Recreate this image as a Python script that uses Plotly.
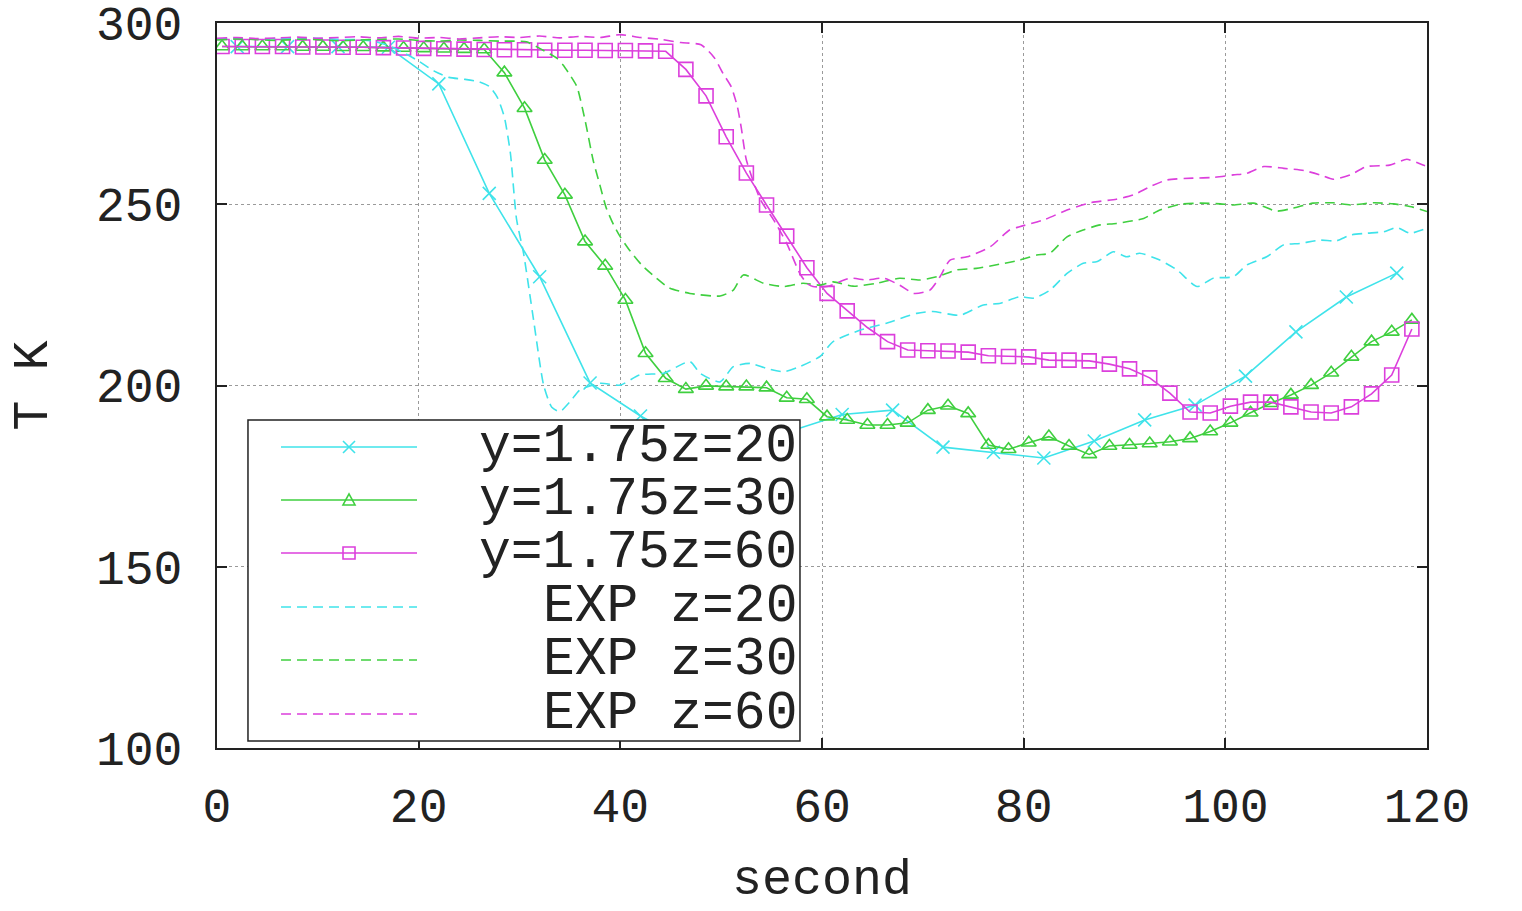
import plotly.graph_objects as go

# ---------------- data ----------------
sim_t_dense = [0.5, 2.5, 4.5, 6.5, 8.5, 10.5, 12.5, 14.5, 16.5, 18.5, 20.5, 22.5, 24.5, 26.5, 28.5,
               30.5, 32.5, 34.5, 36.5, 38.5, 40.5, 42.5, 44.5, 46.5, 48.5, 50.5, 52.5, 54.5, 56.5, 58.5,
               60.5, 62.5, 64.5, 66.5, 68.5, 70.5, 72.5, 74.5, 76.5, 78.5, 80.5, 82.5, 84.5, 86.5, 88.5,
               90.5, 92.5, 94.5, 96.5, 98.5, 100.5, 102.5, 104.5, 106.5, 108.5, 110.5, 112.5, 114.5, 116.5, 118.5]

sim_z30 = [293.5, 293.5, 293.5, 293.5, 293.4, 293.4, 293.3, 293.3, 293.2, 293.1, 293.0, 292.9, 292.8, 292.7, 286.3,
           276.5, 262.2, 252.6, 239.7, 233.0, 223.6, 208.9, 202.0, 199.0, 199.9, 199.7, 199.7, 199.4, 196.6, 196.2,
           191.4, 190.5, 189.1, 189.1, 189.7, 193.2, 194.4, 192.3, 183.6, 182.4, 184.2, 185.9, 183.3, 181.0, 183.3,
           183.6, 184.0, 184.5, 185.4, 187.3, 189.7, 192.5, 195.1, 197.4, 200.1, 203.5, 207.9, 212.1, 214.8, 218.1]

sim_z60 = [293.5, 293.5, 293.5, 293.5, 293.4, 293.4, 293.3, 293.3, 293.2, 293.1, 293.0, 292.9, 292.8, 292.7, 292.6,
           292.6, 292.5, 292.5, 292.5, 292.4, 292.4, 292.3, 292.2, 287.2, 279.9, 268.6, 258.6, 249.8, 241.2, 232.5,
           225.4, 220.6, 216.0, 212.1, 209.8, 209.6, 209.5, 209.2, 208.2, 208.0, 207.9, 207.0, 207.0, 206.8, 205.9,
           204.6, 202.1, 197.9, 192.7, 192.4, 194.3, 195.4, 195.4, 194.1, 192.7, 192.4, 194.1, 197.7, 202.9, 215.6]

sim_t_z20 = [2, 7, 12, 17, 22, 27, 32, 37, 42, 47, 52, 57, 62, 67, 72, 77, 82, 87, 92, 97, 102, 107, 112, 117]
sim_z20 = [293.5, 293.5, 293.5, 293.3, 283.2, 253.0, 230.0, 200.7, 191.6, 184.0, 187.5, 187.5, 192.0, 193.2,
           183.0, 181.6, 180.0, 184.7, 190.5, 194.6, 202.6, 214.8, 224.4, 231.0]

exp_t_z20 = [0, 2, 4, 6, 8, 10, 12, 14, 15.5, 17, 18.5, 20, 21.5, 23, 24.5, 26, 27, 27.8, 28.5, 29.1, 29.7,
             30.4, 31.4, 32.4, 33.2, 34.0, 35.0, 36.0, 38.0, 40.0, 41.9, 44.3, 46.9, 47.9, 49.9, 51.2, 52.9,
             54.5, 56.2, 57.8, 59.8, 61.1, 63.8, 66.4, 69.4, 71.0, 73.7, 76.0, 77.7, 79.6, 81.0, 82.6, 84.3,
             85.9, 87.3, 88.9, 90.2, 91.5, 93.5, 95.2, 97.2, 98.8, 100.8, 102.1, 104.1, 105.8, 107.4, 109.4,
             111.0, 112.4, 114.0, 115.7, 117.0, 118.3, 120.0]
exp_z20 = [295.6, 295.8, 295.5, 295.7, 295.6, 295.8, 295.5, 295.4, 295.0, 293.8, 291.8, 289.5, 286.8, 285.0,
           284.5, 283.8, 282.5, 279.5, 274.0, 264.0, 246.0, 236.5, 218.0, 200.0, 194.0, 192.8, 195.5, 198.8,
           200.6, 200.1, 202.9, 203.4, 206.6, 203.4, 201.0, 205.2, 206.1, 204.7, 203.8, 205.2, 208.0, 212.1,
           215.3, 217.2, 219.9, 220.4, 219.4, 222.2, 222.7, 224.5, 224.1, 226.3, 230.9, 233.7, 234.2, 236.9,
           235.5, 236.5, 234.6, 231.9, 227.3, 229.6, 230.0, 233.2, 235.5, 238.8, 239.2, 240.1, 239.9, 241.5,
           242.0, 242.4, 243.6, 242.0, 243.4]

exp_t_z30 = [0, 2, 4, 6, 8, 10, 12, 14, 16, 18, 20, 22, 24, 26, 28, 29.5, 30.7, 32.0, 33.0, 33.7, 34.3, 35.0,
             35.7, 36.5, 37.3, 38.0, 38.6, 39.3, 40.0, 41.0, 42.2, 43.5, 44.8, 46.9, 49.9, 51.2, 52.2, 54.2,
             56.2, 58.1, 59.8, 61.1, 63.1, 65.4, 67.7, 69.7, 71.4, 73.4, 75.3, 77.7, 79.6, 81.3, 82.6, 84.3,
             85.9, 87.6, 89.2, 91.9, 93.5, 95.5, 97.5, 99.5, 100.8, 102.8, 105.1, 106.7, 108.7, 110.7, 112.4,
             114.7, 116.7, 118.6, 120.0]
exp_z30 = [295.3, 295.6, 295.4, 295.2, 295.5, 295.4, 295.1, 295.3, 295.5, 295.6, 295.2, 295.0, 295.3, 295.2,
           295.0, 295.0, 294.8, 293.0, 291.5, 290.3, 288.5, 285.7, 282.4, 273.2, 262.2, 255.0, 249.0, 244.5,
           241.0, 237.0, 233.0, 229.8, 227.0, 225.4, 224.7, 226.3, 230.5, 228.2, 227.3, 228.2, 227.7, 228.6,
           227.4, 228.2, 229.6, 229.1, 230.0, 231.9, 232.3, 233.5, 234.6, 236.0, 236.5, 241.0, 242.9, 244.3,
           244.7, 246.1, 248.4, 250.0, 250.3, 250.1, 249.8, 250.3, 248.1, 248.9, 250.3, 250.4, 249.8, 250.4,
           250.1, 249.2, 248.0]

exp_t_z60 = [0, 2, 4, 6, 8, 10, 12, 14, 16, 18, 20, 22, 24, 26, 28, 30, 32, 34, 36, 38, 40, 42, 44, 46, 48,
             49.3, 50.2, 51.0, 51.6, 52.0, 52.5, 53.9, 55.2, 56.5, 57.8, 58.5, 59.1, 60.5, 62.8, 64.4, 66.1,
             67.7, 69.1, 70.7, 71.7, 72.7, 74.4, 76.7, 78.6, 79.6, 82.0, 84.3, 86.6, 89.2, 90.9, 92.5, 94.2,
             96.8, 98.8, 100.8, 102.1, 103.8, 105.8, 107.8, 109.4, 110.7, 112.4, 114.0, 116.3, 118.0, 119.6, 120.0]
exp_z60 = [295.8, 296.0, 295.7, 295.9, 296.1, 295.8, 296.0, 296.2, 295.9, 296.3, 295.8, 296.0, 295.6, 295.9,
           296.2, 296.0, 296.4, 295.9, 296.3, 296.0, 296.8, 296.0, 295.5, 294.6, 294.0, 290.5, 286.0, 282.4,
           277.0, 271.0, 262.2, 251.2, 245.7, 239.2, 230.9, 228.2, 227.3, 227.3, 229.6, 229.1, 229.6, 227.7,
           225.4, 226.3, 230.0, 234.6, 235.5, 238.3, 242.9, 243.8, 245.7, 248.4, 250.4, 251.4, 252.6, 254.8,
           256.7, 257.2, 257.4, 258.1, 258.5, 260.4, 259.9, 259.3, 258.1, 256.9, 258.1, 260.4, 260.8, 262.4,
           260.8, 260.5]

series_names = ["y=1.75z=20", "y=1.75z=30", "y=1.75z=60", "EXP z=20", "EXP z=30", "EXP z=60"]

x_ticks = [0, 20, 40, 60, 80, 100, 120]
y_ticks = [100, 150, 200, 250, 300]
x_title = "second"
y_title = "T K"

# ---------------- style ----------------
CYAN = "#3fe3ea"
GREEN = "#3fcf3f"
MAGENTA = "#dc3fdc"
INK = "#222222"
FONT = "Liberation Mono"
DASH = "10px,6px"
colors = [CYAN, GREEN, MAGENTA, CYAN, GREEN, MAGENTA]

fig = go.Figure()

fig.add_trace(go.Scatter(x=sim_t_z20, y=sim_z20, mode="lines+markers", name=series_names[0],
                         line=dict(color=CYAN, width=1.6),
                         marker=dict(symbol="x-thin-open", size=13, line=dict(color=CYAN, width=1.6))))
fig.add_trace(go.Scatter(x=sim_t_dense, y=sim_z30, mode="lines+markers", name=series_names[1],
                         line=dict(color=GREEN, width=1.6),
                         marker=dict(symbol="triangle-up-open", size=13, color=GREEN, line=dict(color=GREEN, width=1.6))))
fig.add_trace(go.Scatter(x=sim_t_dense, y=sim_z60, mode="lines+markers", name=series_names[2],
                         line=dict(color=MAGENTA, width=1.6),
                         marker=dict(symbol="square-open", size=14, color=MAGENTA, line=dict(color=MAGENTA, width=1.6))))
fig.add_trace(go.Scatter(x=exp_t_z20, y=exp_z20, mode="lines", name=series_names[3],
                         line=dict(color=CYAN, width=1.6, dash=DASH, shape="spline", smoothing=0.6)))
fig.add_trace(go.Scatter(x=exp_t_z30, y=exp_z30, mode="lines", name=series_names[4],
                         line=dict(color=GREEN, width=1.6, dash=DASH, shape="spline", smoothing=0.6)))
fig.add_trace(go.Scatter(x=exp_t_z60, y=exp_z60, mode="lines", name=series_names[5],
                         line=dict(color=MAGENTA, width=1.6, dash=DASH, shape="spline", smoothing=0.6)))

axis_common = dict(
    showline=True, linecolor=INK, linewidth=2, mirror="ticks",
    ticks="inside", ticklen=10, tickcolor=INK, tickwidth=1.5,
    showgrid=True, gridcolor="#9a9a9a", griddash="dot", gridwidth=1,
    zeroline=False, ticklabeloverflow="allow", automargin=False,
    tickfont=dict(family=FONT, size=48, color=INK),
)

# ---------------- gnuplot-style legend box (layout only) ----------------
LEG_X0, LEG_X1, LEG_Y0, LEG_Y1 = 0.0256, 0.4818, 0.0097, 0.4524
row_y = [0.4152, 0.3421, 0.2690, 0.1945, 0.1214, 0.0469]
SAMPLE_X0, SAMPLE_X1, SAMPLE_XM = 0.0529, 0.1653, 0.1091
TEXT_X = 0.4810
marker_paths = [
    "M-6,-6 L6,6 M-6,6 L6,-6",
    "M-6,-5 L6,-5 L0,6 Z",
    "M-6,-6 L6,-6 L6,6 L-6,6 Z",
]

shapes = [dict(type="rect", xref="paper", yref="paper", x0=LEG_X0, x1=LEG_X1, y0=LEG_Y0, y1=LEG_Y1,
               fillcolor="white", line=dict(color=INK, width=1.5), layer="above")]
annotations = []
for i, (name, col, ry) in enumerate(zip(series_names, colors, row_y)):
    shapes.append(dict(type="line", xref="paper", yref="paper", x0=SAMPLE_X0, x1=SAMPLE_X1, y0=ry, y1=ry,
                       line=dict(color=col, width=1.6, dash="solid" if i < 3 else DASH), layer="above"))
    if i < 3:
        shapes.append(dict(type="path", xref="paper", yref="paper", xsizemode="pixel", ysizemode="pixel",
                           xanchor=SAMPLE_XM, yanchor=ry, path=marker_paths[i],
                           line=dict(color=col, width=1.6), fillcolor="rgba(0,0,0,0)", layer="above"))
    annotations.append(dict(xref="paper", yref="paper", x=TEXT_X, y=ry, xanchor="right", yanchor="middle",
                            text=name, showarrow=False,
                            font=dict(family=FONT, size=53, color=INK)))

# axis titles
annotations.append(dict(xref="paper", yref="paper", x=0.5, y=-0.183, xanchor="center", yanchor="middle",
                        text=x_title, showarrow=False, font=dict(family=FONT, size=50, color=INK)))
annotations.append(dict(xref="paper", yref="paper", x=-0.152, y=0.5, xanchor="center", yanchor="middle",
                        text=y_title, textangle=-90, showarrow=False, font=dict(family=FONT, size=50, color=INK)))

fig.update_layout(
    width=1522, height=911,
    margin=dict(l=217, r=95, t=23, b=163),
    paper_bgcolor="white", plot_bgcolor="white",
    font=dict(family=FONT, color=INK),
    xaxis=dict(range=[0, 120], tickvals=x_ticks, ticklabelstandoff=14, **axis_common),
    yaxis=dict(range=[100, 300], tickvals=y_ticks, ticklabelstandoff=23, **axis_common),
    shapes=shapes,
    annotations=annotations,
    showlegend=False,
)

fig.write_html("out.html")
